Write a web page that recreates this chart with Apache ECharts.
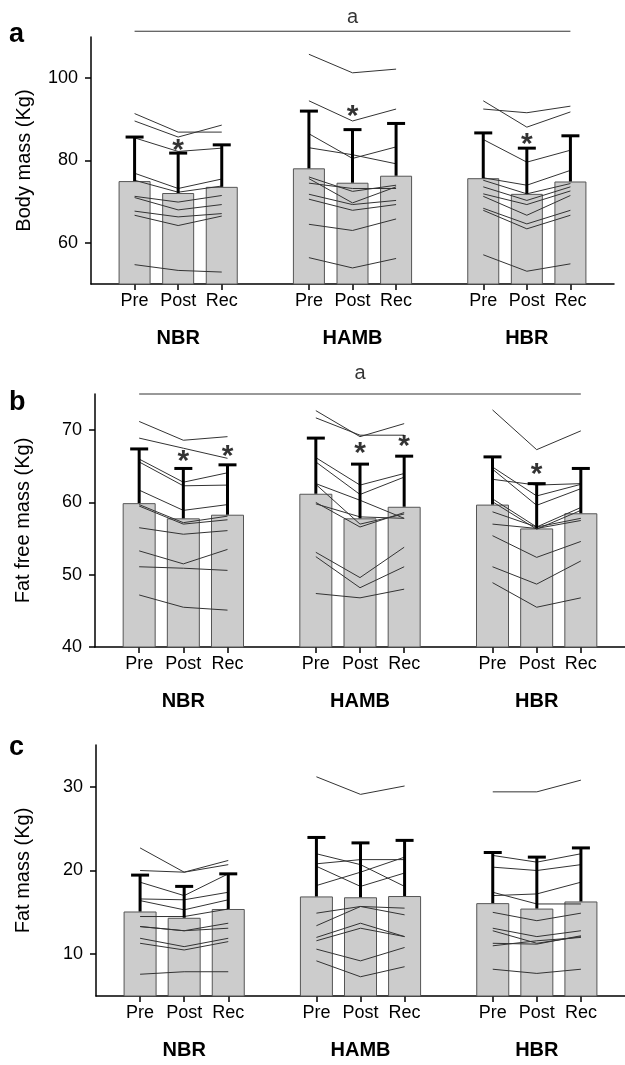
<!DOCTYPE html>
<html>
<head>
<meta charset="utf-8">
<script src="https://cdn.jsdelivr.net/npm/echarts@6/dist/echarts.min.js"></script>
<style>
html,body{margin:0;padding:0;background:#fff;}
#chart{width:625px;height:1065px;}
</style>
</head>
<body>
<div id="chart"></div>
<script>
// ---------- DATA ----------
const conditions = ['Pre', 'Post', 'Rec'];
const groups = ['NBR', 'HAMB', 'HBR'];

// Panel a: body mass (Kg)
const bodyMassMean = [75.0, 72.1, 73.6, 78.1, 74.6, 76.3, 75.7, 71.9, 74.9];
const bodyMassErrTop = [85.7, 81.8, 83.8, 92.0, 87.5, 89.0, 86.7, 83.0, 86.0];
const bodyMassNBR = [
  [91.4, 86.9, 86.9], [89.6, 85.7, 88.6], [85.5, 82.2, 83.0], [76.9, 73.2, 75.5],
  [75.2, 72.3, 73.8], [71.3, 69.9, 71.5], [71.0, 68.0, 69.3], [67.7, 66.3, 67.1],
  [66.7, 64.2, 66.5], [54.7, 53.3, 52.9]
];
const bodyMassHAMB = [
  [105.8, 101.3, 102.2], [94.5, 89.6, 92.5], [86.5, 80.5, 83.3], [83.1, 81.4, 79.2],
  [76.0, 72.5, 74.0], [75.6, 69.7, 73.6], [74.5, 73.2, 73.2], [71.8, 69.3, 70.3],
  [70.6, 67.9, 69.3], [64.5, 63.0, 65.8], [56.4, 53.9, 56.2]
];
const bodyMassHBR = [
  [94.5, 88.1, 91.8], [92.5, 91.6, 93.2], [85.1, 79.6, 82.5], [75.8, 74.0, 77.6],
  [75.2, 71.9, 74.4], [73.6, 70.3, 73.6], [71.9, 69.3, 72.6], [71.3, 66.7, 71.5],
  [68.4, 64.6, 67.9], [67.9, 63.4, 66.7], [57.1, 53.1, 54.9]
];
const bodyMassStars = [[0, 1, 83.9], [1, 1, 92.0], [2, 1, 85.2]]; // [group, condition, value]
const bodyMassSig = 111.4;

// Panel b: fat free mass (Kg)
const ffmMean = [59.9, 57.8, 58.3, 61.2, 57.8, 59.4, 59.7, 56.4, 58.5];
const ffmErrTop = [67.4, 64.7, 65.2, 68.9, 65.3, 66.4, 66.3, 62.6, 64.7];
const ffmNBR = [
  [71.2, 68.6, 69.1], [68.9, 67.5, 66.1], [66.0, 62.8, 64.1], [65.6, 62.3, 62.4],
  [61.7, 58.9, 59.7], [59.7, 57.2, 58.1], [59.5, 57.0, 57.6], [56.5, 55.6, 56.1],
  [53.3, 51.5, 53.5], [51.1, 50.9, 50.6], [47.2, 45.5, 45.1]
];
const ffmHAMB = [
  [72.7, 69.1, 70.9], [71.7, 69.3, 69.3], [66.2, 62.4, 64.0], [65.6, 61.1, 63.5],
  [62.6, 60.3, 57.8], [62.5, 57.0, 58.4], [60.0, 56.6, 58.6], [59.8, 58.0, 57.8],
  [53.1, 49.6, 53.8], [52.5, 48.2, 51.1], [47.4, 46.8, 48.0]
];
const ffmHBR = [
  [72.8, 67.3, 69.9], [64.9, 60.9, 62.5], [64.6, 59.6, 61.9], [63.2, 62.4, 62.6],
  [60.5, 56.6, 59.3], [60.1, 56.3, 58.9], [57.0, 56.4, 57.5], [58.7, 56.6, 57.8],
  [55.4, 52.4, 54.6], [51.1, 48.7, 51.9], [48.9, 45.5, 46.8]
];
const ffmStars = [[0, 1, 66.5], [0, 2, 67.2], [1, 1, 67.6], [1, 2, 68.6], [2, 1, 64.6]];
const ffmSig = 75.0;

// Panel c: fat mass (Kg)
const fmMean = [15.1, 14.35, 15.4, 16.9, 16.8, 16.95, 16.1, 15.45, 16.3];
const fmErrTop = [19.45, 18.1, 19.6, 23.95, 23.3, 23.6, 22.15, 21.6, 22.7];
const fmNBR = [
  [22.7, 19.8, 21.2], [20.0, 19.8, 20.7], [18.6, 17.0, 19.6], [16.6, 16.5, 17.4],
  [16.4, 15.3, 16.5], [14.5, 14.5, 15.4], [13.3, 12.8, 13.7], [13.3, 12.8, 13.1],
  [11.9, 10.9, 11.9], [11.3, 10.5, 11.5], [7.6, 7.9, 7.9]
];
const fmHAMB = [
  [31.2, 29.1, 30.1], [22.0, 20.7, 18.1], [20.8, 21.3, 21.3], [20.5, 18.1, 19.7],
  [18.2, 19.8, 21.6], [14.9, 15.7, 15.5], [13.4, 15.7, 14.7], [12.0, 13.7, 12.1],
  [11.6, 13.1, 12.1], [10.6, 9.2, 10.8], [9.2, 7.3, 8.5]
];
const fmHBR = [
  [29.4, 29.4, 30.8], [21.8, 21.0, 22.0], [20.4, 20.0, 20.7], [17.4, 16.0, 16.0],
  [17.0, 17.2, 18.6], [15.0, 14.0, 14.9], [13.1, 12.1, 12.8], [12.8, 11.3, 12.1],
  [11.3, 11.2, 12.2], [11.0, 11.6, 12.0], [8.2, 7.7, 8.2]
];
const fmStars = [];
const fmSig = null;

// Axis settings
const yTitles = ['Body mass (Kg)', 'Fat free mass (Kg)', 'Fat mass (Kg)'];
const yRanges = [[50, 110], [40, 75], [5, 35]];
const yTickValues = [[60, 80, 100], [40, 50, 60, 70], [10, 20, 30]];
const panelLetters = ['a', 'b', 'c'];

// ---------- BUILD ----------
const FONT = 'Liberation Sans, Arial, sans-serif';
const pos = (g, c) => g * 4 + c + 1;        // position of a bar on the x axis
const posIdx = k => pos(Math.floor(k / 3), k % 3);
const xTicks = [];
groups.forEach((g, gi) => conditions.forEach((c, ci) => xTicks.push(pos(gi, ci))));

const panels = [
  {mean: bodyMassMean, top: bodyMassErrTop, ind: [bodyMassNBR, bodyMassHAMB, bodyMassHBR], stars: bodyMassStars, sig: bodyMassSig, sigDist: 4},
  {mean: ffmMean, top: ffmErrTop, ind: [ffmNBR, ffmHAMB, ffmHBR], stars: ffmStars, sig: ffmSig, sigDist: 11},
  {mean: fmMean, top: fmErrTop, ind: [fmNBR, fmHAMB, fmHBR], stars: fmStars, sig: fmSig, sigDist: 4}
];

const grids = [
  {left: 91, top: 37, width: 523, height: 247},
  {left: 95, top: 394, width: 532, height: 253},
  {left: 96, top: 745, width: 531, height: 251}
];
const nameGaps = [57, 62, 63];
const barWidths = [32, 33, 33];

const xAxes = [], yAxes = [], series = [];
panels.forEach((p, i) => {
  xAxes.push({
    gridIndex: i, type: 'value', min: 0, max: 12,
    splitLine: {show: false},
    axisLine: {show: true, onZero: false, lineStyle: {color: '#000', width: 1.5}},
    axisTick: {show: true, customValues: xTicks, length: 6, lineStyle: {color: '#000', width: 1.5}},
    axisLabel: {
      show: true, customValues: xTicks, margin: 6, color: '#000',
      formatter: v => {
        const idx = xTicks.indexOf(v);
        if (idx < 0) return '';
        const c = idx % 3, g = Math.floor(idx / 3);
        if (c === 1) return '{c|' + conditions[c] + '}\n{g|' + groups[g] + '}';
        return '{c|' + conditions[c] + '}';
      },
      rich: {
        c: {fontSize: 18, fontFamily: FONT, color: '#000', lineHeight: 23},
        g: {fontSize: 20, fontFamily: FONT, fontWeight: 'bold', color: '#000', lineHeight: 50}
      }
    }
  });
  yAxes.push({
    gridIndex: i, type: 'value', min: yRanges[i][0], max: yRanges[i][1],
    name: yTitles[i], nameLocation: 'middle', nameRotate: 90, nameGap: nameGaps[i],
    nameTextStyle: {fontSize: 20, fontFamily: FONT, color: '#000'},
    splitLine: {show: false},
    axisLine: {show: true, lineStyle: {color: '#000', width: 1.5}},
    axisTick: {show: true, customValues: yTickValues[i], length: 6, lineStyle: {color: '#000', width: 1.5}},
    axisLabel: {show: true, customValues: yTickValues[i], margin: 13, fontSize: 18, fontFamily: FONT, color: '#000'}
  });
  // bars
  series.push({
    type: 'bar', xAxisIndex: i, yAxisIndex: i, barWidth: barWidths[i], z: 2,
    data: p.mean.map((v, k) => [posIdx(k), v]),
    itemStyle: {color: '#cccccc', borderColor: '#555', borderWidth: 1},
    silent: true
  });
  // individual lines
  p.ind.forEach((rows, g) => {
    rows.forEach(r => {
      series.push({
        type: 'line', xAxisIndex: i, yAxisIndex: i, z: 3, symbol: 'none', silent: true,
        data: r.map((v, c) => [pos(g, c), v]),
        lineStyle: {color: '#333', width: 1}
      });
    });
  });
  // error bars (upper)
  series.push({
    type: 'custom', xAxisIndex: i, yAxisIndex: i, z: 4, silent: true,
    data: p.mean.map((v, k) => [posIdx(k), v, p.top[k]]),
    renderItem: (params, api) => {
      const x = api.value(0);
      const p0 = api.coord([x, api.value(1)]);
      const p1 = api.coord([x, api.value(2)]);
      const hw = 9;
      return {type: 'group', children: [
        {type: 'line', shape: {x1: p0[0], y1: p0[1], x2: p1[0], y2: p1[1]}, style: {stroke: '#000', lineWidth: 3}},
        {type: 'line', shape: {x1: p1[0] - hw, y1: p1[1], x2: p1[0] + hw, y2: p1[1]}, style: {stroke: '#000', lineWidth: 3}}
      ]};
    }
  });
  // asterisks
  if (p.stars.length) {
    series.push({
      type: 'scatter', xAxisIndex: i, yAxisIndex: i, z: 5, silent: true, symbolSize: 0, clip: false,
      data: p.stars.map(s => [pos(s[0], s[1]), s[2]]),
      label: {show: true, position: 'inside', formatter: '*', fontSize: 30, fontWeight: 'bold', fontFamily: FONT, color: '#000', offset: [0, 6]}
    });
  }
  // significance line "a"
  if (p.sig !== null) {
    series.push({
      type: 'line', xAxisIndex: i, yAxisIndex: i, z: 5, symbol: 'none', silent: true, clip: false,
      data: [[pos(0, 0), p.sig], [pos(2, 2), p.sig]],
      lineStyle: {color: '#333', width: 1}
    });
    series.push({
      type: 'scatter', xAxisIndex: i, yAxisIndex: i, z: 5, silent: true, symbolSize: 0, clip: false,
      data: [[pos(1, 1), p.sig]],
      label: {show: true, position: 'top', distance: p.sigDist, formatter: 'a', fontSize: 20, fontFamily: FONT, color: '#000'}
    });
  }
});

const letterY = [36, 404, 749];
const graphic = panelLetters.map((t, i) => ({
  type: 'text', left: 9, top: letterY[i] - 15,
  style: {text: t, fontSize: 27, fontWeight: 'bold', fontFamily: FONT, fill: '#000'}
}));

const chart = echarts.init(document.getElementById('chart'), null, {renderer: 'canvas'});
chart.setOption({
  animation: false,
  backgroundColor: '#fff',
  grid: grids,
  xAxis: xAxes,
  yAxis: yAxes,
  series: series,
  graphic: graphic
});
</script>
</body>
</html>
